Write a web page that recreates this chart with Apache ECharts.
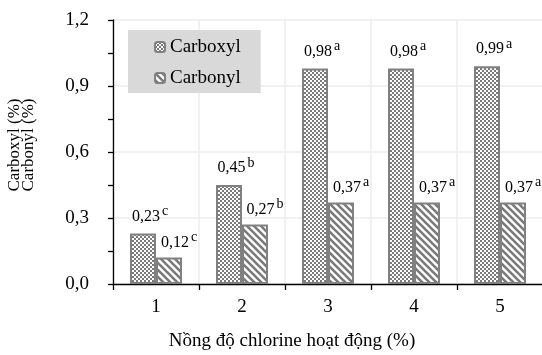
<!DOCTYPE html>
<html>
<head>
<meta charset="utf-8">
<script src="https://cdn.jsdelivr.net/npm/echarts@6/dist/echarts.min.js"></script>
<style>html,body{margin:0;padding:0;background:#fff}#c{width:542px;height:355px}</style>
</head>
<body>
<div id="c"></div>
<script>
var categories = ['1', '2', '3', '4', '5'];
var carboxylValues = [0.23, 0.45, 0.98, 0.98, 0.99];
var carbonylValues = [0.12, 0.27, 0.37, 0.37, 0.37];
var carboxylLetters = ['c', 'b', 'a', 'a', 'a'];
var carbonylLetters = ['c', 'b', 'a', 'a', 'a'];
var yTicks = [0, 0.3, 0.6, 0.9, 1.2];

var FONT = 'Liberation Serif';
var GRAY = '#808080';

function checkerPattern() {
  var c = document.createElement('canvas');
  c.width = 4; c.height = 4;
  var ctx = c.getContext('2d');
  ctx.fillStyle = '#ffffff'; ctx.fillRect(0, 0, 4, 4);
  ctx.fillStyle = '#7a7a7a';
  ctx.fillRect(0, 0, 2, 2); ctx.fillRect(2, 2, 2, 2);
  return c;
}
function stripePattern() {
  var c = document.createElement('canvas');
  c.width = 7; c.height = 7;
  var ctx = c.getContext('2d');
  ctx.fillStyle = '#ffffff'; ctx.fillRect(0, 0, 7, 7);
  ctx.strokeStyle = '#7a7a7a'; ctx.lineWidth = 2.6;
  ctx.beginPath();
  ctx.moveTo(-2, -2); ctx.lineTo(9, 9);
  ctx.moveTo(-2, 5); ctx.lineTo(2, 9);
  ctx.moveTo(5, -2); ctx.lineTo(9, 2);
  ctx.stroke();
  return c;
}
var checkFill = { image: checkerPattern(), repeat: 'repeat' };
var stripeFill = { image: stripePattern(), repeat: 'repeat' };

function fmt(v) { return v.toFixed(2).replace('.', ','); }

var richStyle = {
  v: { fontFamily: FONT, fontSize: 16, color: '#000', lineHeight: 20, verticalAlign: 'bottom' },
  s: { fontFamily: FONT, fontSize: 14, color: '#000', lineHeight: 12, verticalAlign: 'top', padding: [0, 0, 0, 2] }
};

var chart = echarts.init(document.getElementById('c'), null, { renderer: 'canvas' });
chart.setOption({
  animation: false,
  backgroundColor: '#ffffff',
  textStyle: { fontFamily: FONT },
  grid: { left: 113, top: 20, width: 430, bottom: 71, containLabel: false, outerBoundsMode: 'none' },
  legend: {
    orient: 'vertical',
    left: 128, top: 30,
    padding: [7, 20, 5, 26],
    backgroundColor: '#d9d9d9',
    itemWidth: 10, itemHeight: 10,
    itemGap: 11,
    formatter: '{t|{name}}',
    textStyle: {
      fontFamily: FONT, fontSize: 19, color: '#000', lineHeight: 20,
      rich: { t: { fontFamily: FONT, fontSize: 19, color: '#000', lineHeight: 20 } }
    },
    data: ['Carboxyl', 'Carbonyl']
  },
  xAxis: {
    type: 'category',
    data: categories,
    boundaryGap: true,
    axisLine: { lineStyle: { color: '#000', width: 1.3 } },
    axisTick: { show: true, length: 6, lineStyle: { color: '#000', width: 1.3 } },
    axisLabel: { fontFamily: FONT, fontSize: 19, color: '#000', margin: 14 },
    splitLine: { show: true, lineStyle: { color: '#ececec', width: 1.5 } },
    name: 'Nồng độ chlorine hoạt động (%)',
    nameLocation: 'middle',
    nameGap: 48,
    nameTextStyle: { fontFamily: FONT, fontSize: 19, color: '#000', padding: [0, 72, 0, 0] }
  },
  yAxis: {
    type: 'value',
    min: 0, max: 1.2, interval: 0.3,
    axisLine: { show: true, lineStyle: { color: '#000', width: 1.3 } },
    axisTick: { show: true, length: 5, lineStyle: { color: '#000', width: 1.3 } },
    minorTick: { show: true, splitNumber: 2, length: 5, lineStyle: { color: '#000', width: 1.3 } },
    axisLabel: {
      fontFamily: FONT, fontSize: 19, color: '#000', margin: 24,
      formatter: function (v) {
        for (var i = 0; i < yTicks.length; i++) {
          if (Math.abs(yTicks[i] - v) < 1e-6) return yTicks[i].toFixed(1).replace('.', ',');
        }
        return '';
      }
    },
    splitLine: { show: true, lineStyle: { color: '#ececec', width: 1.5 } },
    name: 'Carboxyl (%)\nCarbonyl (%)',
    nameLocation: 'middle',
    nameRotate: 90,
    nameGap: 77,
    nameTextStyle: { fontFamily: FONT, fontSize: 17, color: '#000', lineHeight: 14, padding: [0, 0, 0, 14] }
  },
  series: [
    {
      name: 'Carboxyl',
      type: 'bar',
      data: carboxylValues,
      barWidth: 26,
      barGap: '0%',
      itemStyle: { color: checkFill, borderColor: GRAY, borderWidth: 2 },
      label: {
        show: true, position: 'top', distance: 9, offset: [7, 0],
        formatter: function (p) { return '{v|' + fmt(p.value) + '}{s|' + carboxylLetters[p.dataIndex] + '}'; },
        rich: richStyle
      }
    },
    {
      name: 'Carbonyl',
      type: 'bar',
      data: carbonylValues,
      barWidth: 26,
      itemStyle: { color: stripeFill, borderColor: GRAY, borderWidth: 2 },
      label: {
        show: true, position: 'top', distance: 7, offset: [10, 0],
        formatter: function (p) { return '{v|' + fmt(p.value) + '}{s|' + carbonylLetters[p.dataIndex] + '}'; },
        rich: richStyle
      }
    }
  ]
});
</script>
</body>
</html>
